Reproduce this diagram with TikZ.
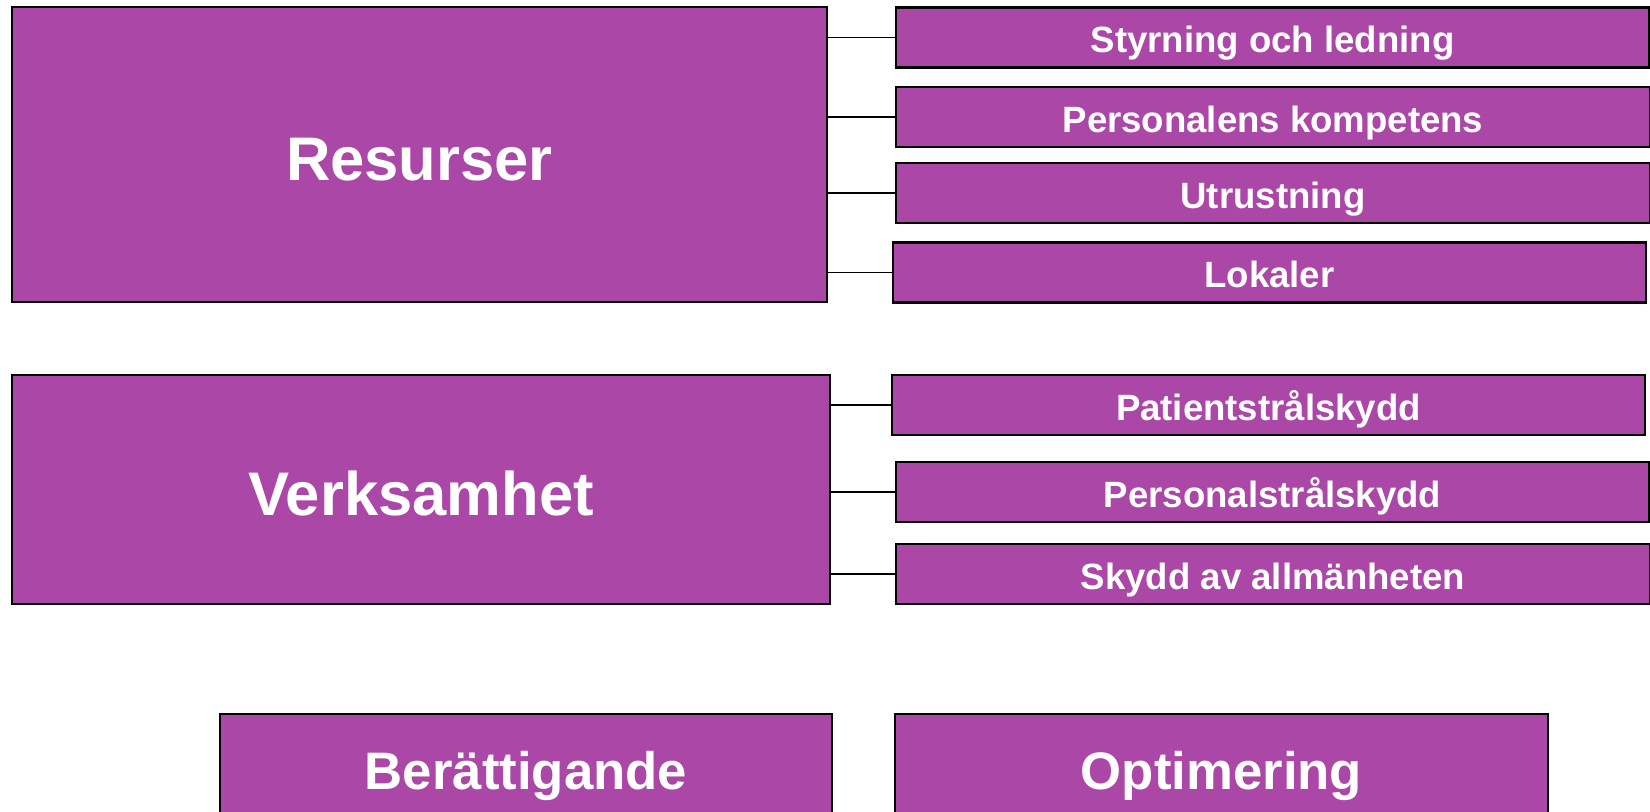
\documentclass[tikz,border=0pt]{standalone}
\usepackage{fontspec}
\setmainfont{Liberation Sans}
\definecolor{lila}{RGB}{171,71,167}
\begin{document}
\begin{tikzpicture}[x=0.01cm, y=-0.01cm,
  box/.style={draw=black, line width=0.6pt, fill=lila, text=white, inner sep=0pt, text depth=0pt},
  mainbox/.style={box, font=\fontsize{17.5}{21}\selectfont\bfseries, text height=14.8pt},
  subbox/.style={box, font=\fontsize{10.4}{12}\selectfont\bfseries, text height=8.6pt, minimum width=7.53cm, minimum height=0.6cm},
  stepbox/.style={box, font=\fontsize{15}{18}\selectfont\bfseries, text height=12.4pt, minimum height=1.08cm}]
\clip (0,0) rectangle (1650,812);
% nodes
\node[mainbox, minimum width=8.15cm, minimum height=2.95cm] (res) at (419.5,154.5) {Resurser};
\node[subbox] (styr) at (1272.5,37.5) {Styrning och ledning};
\node[subbox] (komp) at (1273,117) {Personalens kompetens};
\node[subbox] (utr) at (1273,193) {Utrustning};
\node[subbox] (lok) at (1269.5,272.5) {Lokaler};
\node[mainbox, minimum width=8.18cm, minimum height=2.29cm] (verk) at (421,489.5) {Verksamhet};
\node[subbox] (pat) at (1268.5,405) {Patientstrålskydd};
\node[subbox] (pers) at (1272.5,492) {Personalstrålskydd};
\node[subbox] (allm) at (1273,574) {Skydd av allmänheten};
\node[stepbox, minimum width=6.12cm] (ber) at (526,768) {Berättigande};
\node[stepbox, minimum width=6.53cm] (opt) at (1221.5,768) {Optimering};
% lines
\foreach \n in {styr,komp,utr,lok} \draw[line width=0.5pt] (\n.west) -- (\n.west -| res.east);
\foreach \n in {pat,pers,allm} \draw[line width=0.5pt] (\n.west) -- (\n.west -| verk.east);
\end{tikzpicture}
\end{document}
